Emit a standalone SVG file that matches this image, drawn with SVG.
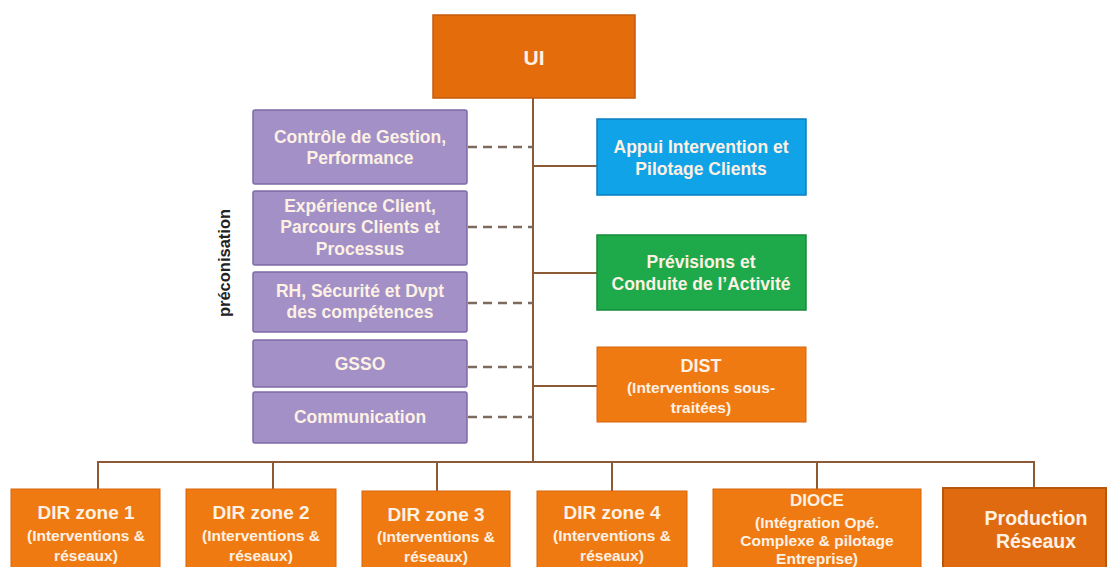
<svg xmlns="http://www.w3.org/2000/svg" width="1115" height="567" viewBox="0 0 1115 567">
<style>
.t{font-family:"Liberation Sans",Arial,sans-serif;font-weight:bold;text-anchor:middle;dominant-baseline:central;fill:#fdf1e4}
.b{font-size:17.5px}
.s{font-size:15.5px}
.h{font-size:19px}
.p{fill:#a290c6;stroke:#7d6aa6;stroke-width:1.5}
.o{fill:#f07a12;stroke:#d8650c;stroke-width:1}
.ln{stroke:#8c5a35;stroke-width:2;fill:none}
.dash{stroke:#7f6b5e;stroke-width:2.5;stroke-dasharray:9 6;fill:none}
</style>
<rect width="1115" height="567" fill="#ffffff"/>
<g id="connectors">
<line class="ln" x1="533" y1="98" x2="533" y2="462"/>
<line class="ln" x1="533" y1="166" x2="597" y2="166"/>
<line class="ln" x1="533" y1="273" x2="597" y2="273"/>
<line class="ln" x1="533" y1="386" x2="597" y2="386"/>
<polyline class="ln" points="98,489 98,462 1034,462 1034,488"/>
<line class="ln" x1="273" y1="462" x2="273" y2="489"/>
<line class="ln" x1="437" y1="462" x2="437" y2="491"/>
<line class="ln" x1="612" y1="462" x2="612" y2="491"/>
<line class="ln" x1="817" y1="462" x2="817" y2="489"/>
<line class="dash" x1="468" y1="147" x2="533" y2="147"/>
<line class="dash" x1="468" y1="227" x2="533" y2="227"/>
<line class="dash" x1="468" y1="303" x2="533" y2="303"/>
<line class="dash" x1="468" y1="367" x2="533" y2="367"/>
<line class="dash" x1="468" y1="417" x2="533" y2="417"/>
</g>
<g id="ui">
<rect x="433" y="15" width="202" height="83" fill="#e46c0a" stroke="#c5590c" stroke-width="1.5"/>
<text class="t" x="534" y="57" font-size="21">UI</text>
</g>
<g id="controle">
<rect class="p" x="253" y="110" width="214" height="74" rx="2"/>
<text class="t b" x="360" y="137">Contrôle de Gestion,</text>
<text class="t b" x="360" y="158">Performance</text>
</g>
<g id="experience">
<rect class="p" x="253" y="191" width="214" height="74" rx="2"/>
<text class="t b" x="360" y="206">Expérience Client,</text>
<text class="t b" x="360" y="227">Parcours Clients et</text>
<text class="t b" x="360" y="249">Processus</text>
</g>
<g id="rh">
<rect class="p" x="253" y="272" width="214" height="60" rx="2"/>
<text class="t b" x="360" y="291">RH, Sécurité et Dvpt</text>
<text class="t b" x="360" y="312">des compétences</text>
</g>
<g id="gsso">
<rect class="p" x="253" y="340" width="214" height="47" rx="2"/>
<text class="t b" x="360" y="364">GSSO</text>
</g>
<g id="communication">
<rect class="p" x="253" y="392" width="214" height="51" rx="2"/>
<text class="t b" x="360" y="417">Communication</text>
</g>
<g id="preconisation">
<text font-family="'Liberation Sans',Arial,sans-serif" font-weight="bold" font-size="16.5" fill="#222" text-anchor="middle" dominant-baseline="central" transform="translate(224,263) rotate(-90)">préconisation</text>
</g>
<g id="appui">
<rect x="597" y="119" width="209" height="76" fill="#10a3e8" stroke="#0a7fbf" stroke-width="1.5"/>
<text class="t b" x="701" y="147">Appui Intervention et</text>
<text class="t b" x="701" y="169">Pilotage Clients</text>
</g>
<g id="previsions">
<rect x="597" y="235" width="209" height="75" fill="#1eaa4a" stroke="#178a3a" stroke-width="1.5"/>
<text class="t b" x="701" y="262">Prévisions et</text>
<text class="t b" x="701" y="284">Conduite de l’Activité</text>
</g>
<g id="dist">
<rect class="o" x="597" y="347" width="209" height="75"/>
<text class="t" x="701" y="366" font-size="18">DIST</text>
<text class="t" x="701" y="387" font-size="15.5">(Interventions  sous-</text>
<text class="t" x="701" y="407" font-size="15.5">traitées)</text>
</g>
<g id="dir1">
<rect class="o" x="11" y="489" width="149" height="85"/>
<text class="t h" x="86" y="512">DIR zone 1</text>
<text class="t s" x="86" y="535">(Interventions  &amp;</text>
<text class="t s" x="86" y="555">réseaux)</text>
</g>
<g id="dir2">
<rect class="o" x="186" y="489" width="150" height="85"/>
<text class="t h" x="261" y="512">DIR zone 2</text>
<text class="t s" x="261" y="535">(Interventions  &amp;</text>
<text class="t s" x="261" y="555">réseaux)</text>
</g>
<g id="dir3">
<rect class="o" x="362" y="491" width="148" height="85"/>
<text class="t h" x="436" y="514">DIR zone 3</text>
<text class="t s" x="436" y="536">(Interventions  &amp;</text>
<text class="t s" x="436" y="556">réseaux)</text>
</g>
<g id="dir4">
<rect class="o" x="537" y="491" width="150" height="85"/>
<text class="t h" x="612" y="512">DIR zone 4</text>
<text class="t s" x="612" y="535">(Interventions  &amp;</text>
<text class="t s" x="612" y="555">réseaux)</text>
</g>
<g id="dioce">
<rect class="o" x="713" y="489" width="208" height="85"/>
<text class="t" x="817" y="500" font-size="17">DIOCE</text>
<text class="t s" x="817" y="522">(Intégration  Opé.</text>
<text class="t s" x="817" y="540">Complexe &amp; pilotage</text>
<text class="t s" x="817" y="558">Entreprise)</text>
</g>
<g id="production">
<rect x="943" y="488" width="163" height="85" fill="#df6a10" stroke="#b8560c" stroke-width="2"/>
<text class="t" x="1036" y="518" font-size="19.5">Production</text>
<text class="t" x="1036" y="541" font-size="19.5">Réseaux</text>
</g>
</svg>
